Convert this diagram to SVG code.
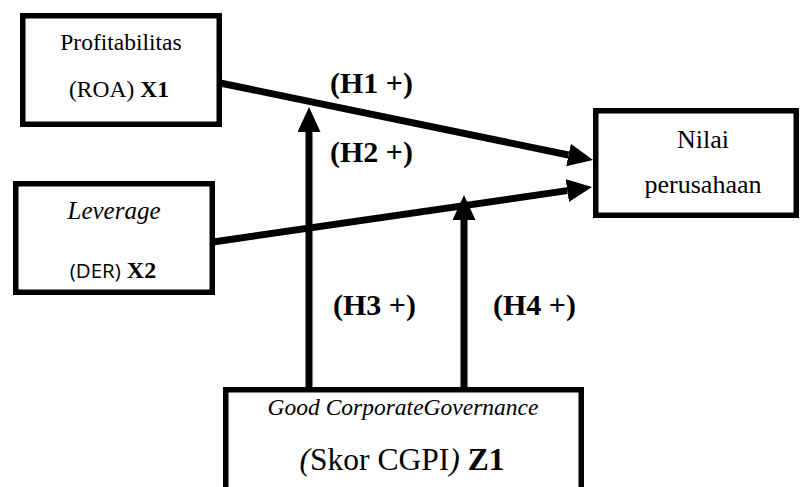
<svg xmlns="http://www.w3.org/2000/svg" width="801" height="487" viewBox="0 0 801 487">
<style>
.box{fill:#fff;stroke:#000;stroke-width:5.5}
.ln{stroke:#000;stroke-width:7;fill:none}
.t{font-family:"Liberation Serif","Times New Roman",serif;fill:#000;text-anchor:middle}
.b{font-weight:bold}
.i{font-style:italic}
.s{font-family:"Open Sans","Liberation Sans",sans-serif}
.h{font-family:"Liberation Serif","Times New Roman",serif;font-weight:bold;font-size:30px;fill:#000}
</style>
<defs>
<marker id="ah" markerUnits="userSpaceOnUse" markerWidth="26" markerHeight="24" refX="0" refY="11.5" orient="auto">
<path d="M0,0 L25,11.5 L0,23 z" fill="#000"/>
</marker>
</defs>
<rect width="801" height="487" fill="#fff"/>
<g id="connectors">
<line class="ln" x1="220" y1="83" x2="568.5" y2="155" marker-end="url(#ah)"/>
<line class="ln" x1="213" y1="242" x2="567.3" y2="190.6" marker-end="url(#ah)"/>
<line class="ln" x1="309" y1="390" x2="309" y2="132" marker-end="url(#ah)"/>
<line class="ln" x1="464" y1="390" x2="464" y2="220" marker-end="url(#ah)"/>
<text class="h" x="330" y="93">(H1 +)</text>
<text class="h" x="330" y="162">(H2 +)</text>
<text class="h" x="333" y="315">(H3 +)</text>
<text class="h" x="493" y="315">(H4 +)</text>
</g>
<g id="x1">
<rect class="box" x="22.75" y="15.75" width="196.5" height="108.5"/>
<text class="t" x="121" y="50" font-size="23.5">Profitabilitas</text>
<text class="t" x="119" y="97" font-size="23.5">(ROA) <tspan class="b">X1</tspan></text>
</g>
<g id="x2">
<rect class="box" x="15.75" y="183.75" width="196.5" height="108.5"/>
<text class="t i" x="114" y="219" font-size="25">Leverage</text>
<text class="t" x="113" y="278" font-size="24"><tspan class="s" font-size="20.5">(DER)</tspan> <tspan class="b">X2</tspan></text>
</g>
<g id="y">
<rect class="box" x="595.75" y="110.75" width="200.5" height="104.5"/>
<text class="t" x="703" y="148" font-size="26">Nilai</text>
<text class="t" x="703" y="193" font-size="26">perusahaan</text>
</g>
<g id="z1">
<rect class="box" x="225.75" y="389.75" width="355.5" height="110"/>
<text class="t i" x="403" y="415" font-size="23.5">Good CorporateGovernance</text>
<text class="t" x="402" y="470" font-size="31.5"><tspan class="i">(</tspan>Skor CGPI<tspan class="i">)</tspan> <tspan class="b">Z1</tspan></text>
</g>
</svg>
